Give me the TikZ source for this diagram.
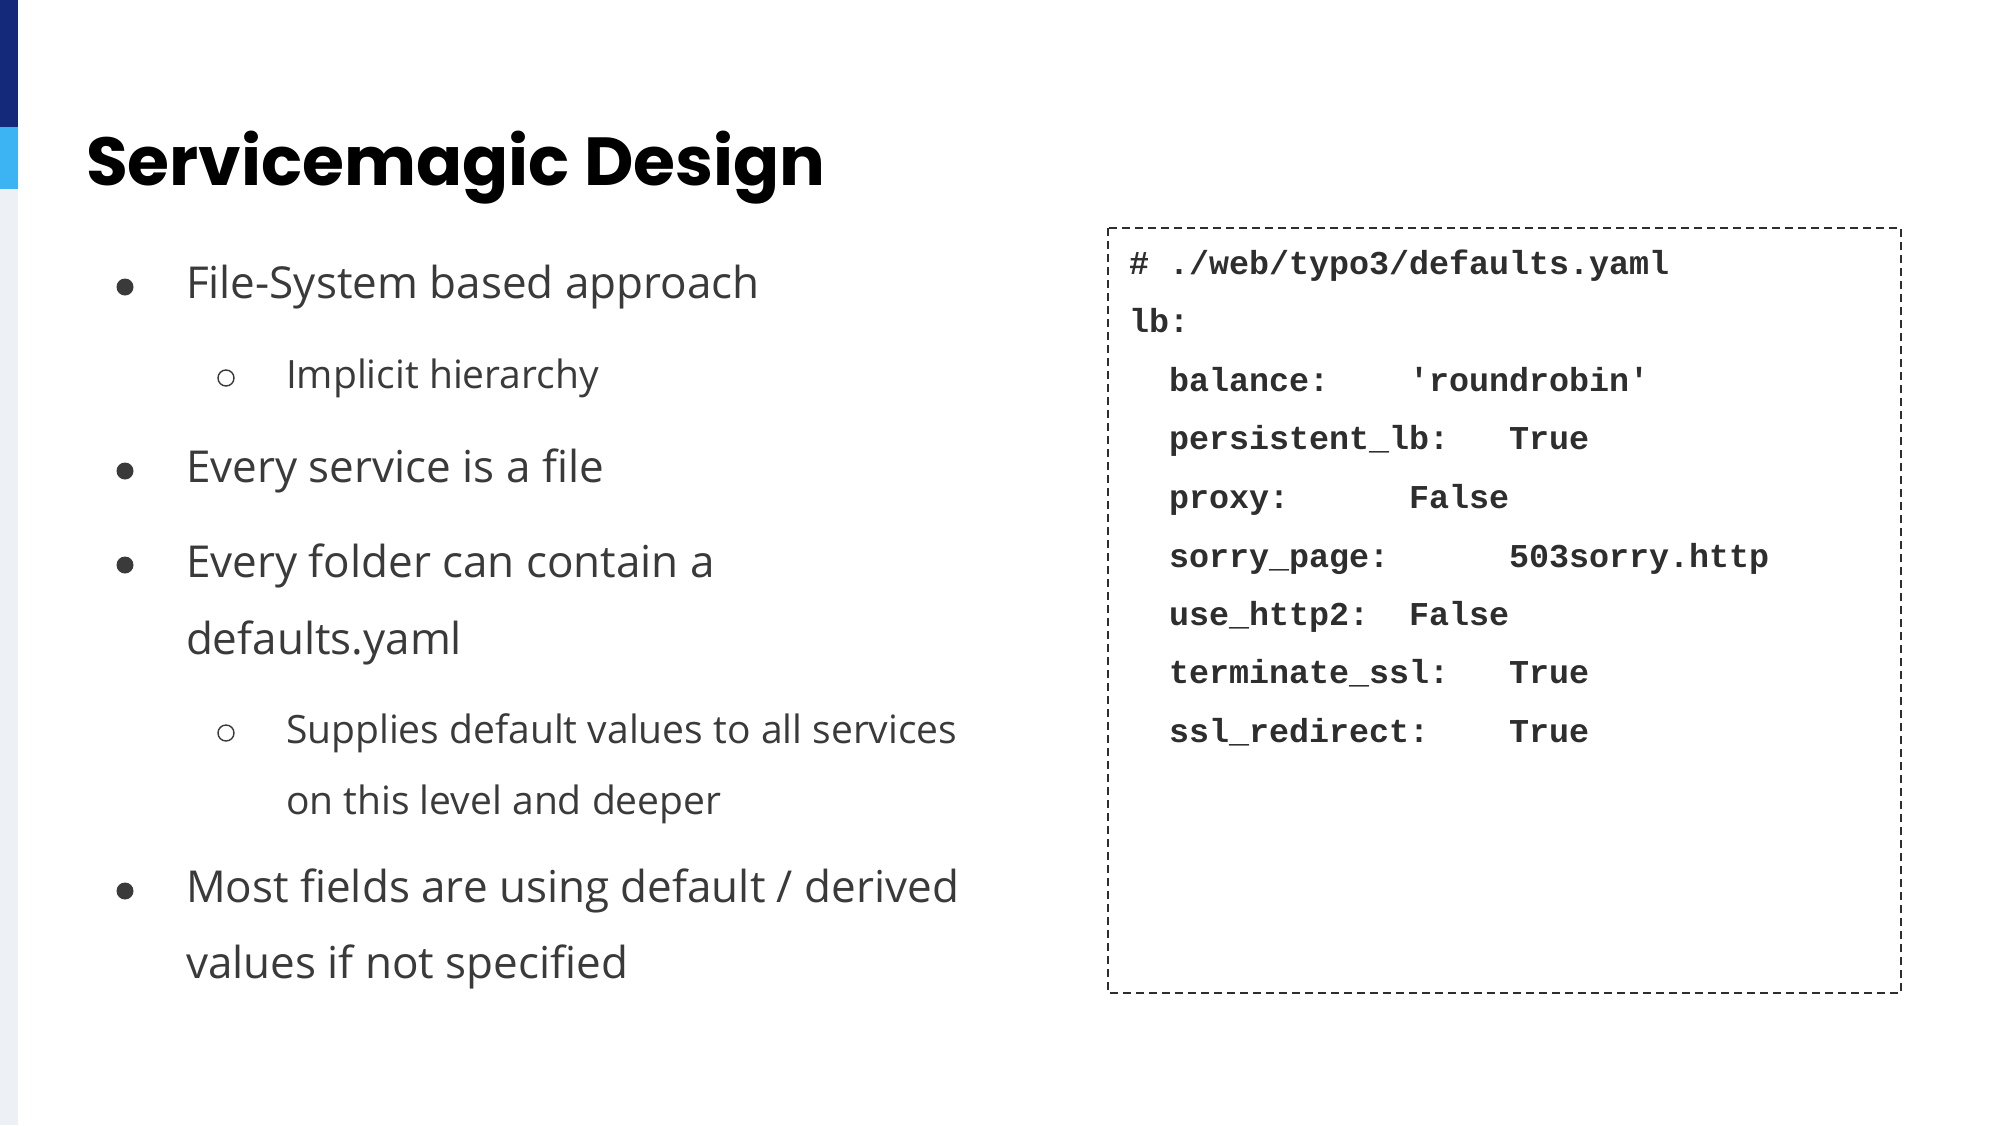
\documentclass[tikz,border=0pt]{standalone}
\usepackage{fontspec}
\setmainfont{Open Sans}
\newfontfamily\titlefont{Poppins}
\setmonofont{Liberation Mono}
\definecolor{barnavy}{HTML}{14297A}
\definecolor{barsky}{HTML}{3CB4F4}
\definecolor{bargrey}{HTML}{EDF1F5}
\definecolor{bodygrey}{HTML}{3A3A3A}
\definecolor{codegrey}{HTML}{2E2E2E}
\tikzset{
  txt/.style={anchor=base west, inner sep=0pt, outer sep=0pt},
  titletxt/.style={txt, font=\titlefont\bfseries\fontsize{34pt}{40pt}\selectfont, text=black},
  maintxt/.style={txt, font=\fontsize{22pt}{26pt}\selectfont, text=bodygrey},
  subtxt/.style={txt, font=\fontsize{19.5pt}{23pt}\selectfont, text=bodygrey},
  codetxt/.style={txt, font=\ttfamily\bfseries\fontsize{16.67pt}{20pt}\selectfont, text=codegrey},
  dotbullet/.style={circle, fill=bodygrey, draw=none, minimum size=8.5pt, inner sep=0pt},
  ringbullet/.style={circle, draw=bodygrey, line width=0.7pt, fill=none, minimum size=8pt, inner sep=0pt},
  codebox/.style={draw=codegrey, line width=1.3pt, dash pattern=on 4pt off 2.5pt}
}
\begin{document}
\begin{tikzpicture}[x=0.5pt, y=-0.5pt]
\useasboundingbox (0,0) rectangle (2000,1125);
\fill[white] (0,0) rectangle (2000,1125);
% left bar
\fill[barnavy] (0,0) rectangle (18,127);
\fill[barsky] (0,127) rectangle (18,189);
\fill[bargrey] (0,189) rectangle (18,1125);
% title
\node[titletxt] (title) at (86,185) {Servicemagic Design};
% bullets
\node[dotbullet] (b1) at (125,287) {};
\node[maintxt] (t1) at (186,298) {File-System based approach};
\node[ringbullet] (s1) at (226,378) {};
\node[subtxt] (u1) at (286,388) {Implicit hierarchy};
\node[dotbullet] (b2) at (125,471) {};
\node[maintxt] (t2) at (186,482) {Every service is a file};
\node[dotbullet] (b3) at (125,565) {};
\node[maintxt] (t3) at (186,577) {Every folder can contain a};
\node[maintxt] (t3b) at (186,654) {defaults.yaml};
\node[ringbullet] (s2) at (226,733) {};
\node[subtxt] (u2) at (286,743) {Supplies default values to all services};
\node[subtxt] (u2b) at (286,814) {on this level and deeper};
\node[dotbullet] (b4) at (125,891) {};
\node[maintxt] (t4) at (186,902) {Most fields are using default / derived};
\node[maintxt] (t4b) at (186,978) {values if not specified};
% code box
\draw[codebox] (1108,228) rectangle (1901,993);
\node[codetxt] (c0) at (1129,274) {\# ./web/typo3/defaults.yaml};
\node[codetxt] (c1) at (1129,332) {lb:};
\node[codetxt] (k1) at (1169,391) {balance:};
\node[codetxt] (v1) at (1409,391) {'roundrobin'};
\node[codetxt] (k2) at (1169,449) {persistent\_lb:};
\node[codetxt] (v2) at (1509,449) {True};
\node[codetxt] (k3) at (1169,508) {proxy:};
\node[codetxt] (v3) at (1409,508) {False};
\node[codetxt] (k4) at (1169,567) {sorry\_page:};
\node[codetxt] (v4) at (1509,567) {503sorry.http};
\node[codetxt] (k5) at (1169,625) {use\_http2:};
\node[codetxt] (v5) at (1409,625) {False};
\node[codetxt] (k6) at (1169,683) {terminate\_ssl:};
\node[codetxt] (v6) at (1509,683) {True};
\node[codetxt] (k7) at (1169,742) {ssl\_redirect:};
\node[codetxt] (v7) at (1509,742) {True};
\end{tikzpicture}
\end{document}
